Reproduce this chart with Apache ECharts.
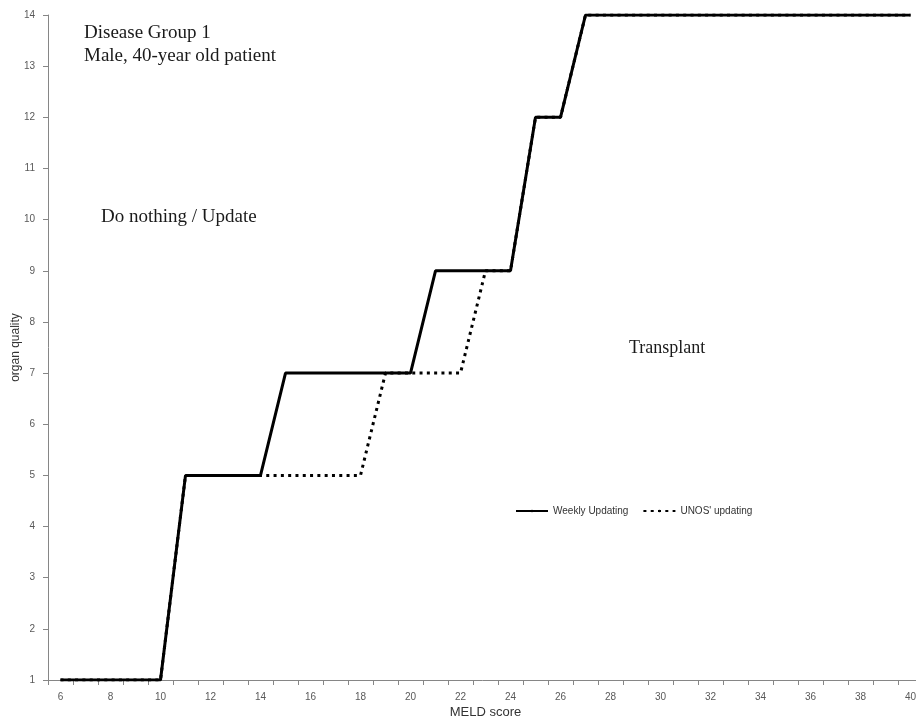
<!DOCTYPE html>
<html>
<head>
<meta charset="utf-8">
<script src="https://cdn.jsdelivr.net/npm/echarts@6/dist/echarts.min.js"></script>
<style>
html,body{margin:0;padding:0;background:#fff;}
#chart{width:916px;height:721px;}
</style>
</head>
<body>
<div id="chart"></div>
<script>
var meldScores = ['6','7','8','9','10','11','12','13','14','15','16','17','18','19','20','21','22','23','24','25','26','27','28','29','30','31','32','33','34','35','36','37','38','39','40'];
var weeklyUpdating = [1,1,1,1,1,5,5,5,5,7,7,7,7,7,7,9,9,9,9,12,12,14,14,14,14,14,14,14,14,14,14,14,14,14,14];
var unosUpdating   = [1,1,1,1,1,5,5,5,5,5,5,5,5,7,7,7,7,9,9,12,12,14,14,14,14,14,14,14,14,14,14,14,14,14,14];

var chart = echarts.init(document.getElementById('chart'), null, {renderer:'canvas'});
var axisGrey = '#868686';
var labelGrey = '#595959';
chart.setOption({
  animation: false,
  backgroundColor: '#fff',
  grid: {left: 48, top: 15, width: 875, height: 665, containLabel: false, outerBoundsMode: 'none'},
  legend: {
    left: 510, top: 501,
    itemWidth: 32, itemHeight: 3, itemGap: 14,
    textStyle: {fontFamily: 'Liberation Sans', fontSize: 10, color: '#333'},
    data: ['Weekly Updating', "UNOS' updating"]
  },
  xAxis: {
    type: 'category',
    data: meldScores,
    boundaryGap: true,
    name: 'MELD score',
    nameLocation: 'middle',
    nameGap: 26,
    nameMoveOverlap: false,
    nameTextStyle: {fontFamily: 'Liberation Sans', fontSize: 13, color: '#333'},
    axisLine: {lineStyle: {color: axisGrey, width: 1}},
    axisTick: {show: true, interval: 0, alignWithLabel: false, length: 5, lineStyle: {color: axisGrey}},
    axisLabel: {interval: 1, margin: 12, fontFamily: 'Liberation Sans', fontSize: 10, color: labelGrey},
    splitLine: {show: false}
  },
  yAxis: {
    type: 'value',
    min: 1, max: 14, interval: 1,
    name: 'organ quality',
    nameLocation: 'middle',
    nameGap: 26,
    nameMoveOverlap: false,
    nameTextStyle: {fontFamily: 'Liberation Sans', fontSize: 12, color: '#333'},
    axisLine: {show: true, lineStyle: {color: axisGrey, width: 1}},
    axisTick: {show: true, length: 5, lineStyle: {color: axisGrey}},
    axisLabel: {margin: 13, fontFamily: 'Liberation Sans', fontSize: 10, color: labelGrey},
    splitLine: {show: false}
  },
  series: [
    {
      name: 'Weekly Updating',
      type: 'line',
      data: weeklyUpdating,
      symbol: 'none',
      lineStyle: {color: '#000', width: 3, type: 'solid'},
      itemStyle: {color: '#000'},
      z: 2
    },
    {
      name: "UNOS' updating",
      type: 'line',
      data: unosUpdating,
      symbol: 'none',
      lineStyle: {color: '#000', width: 3, type: [3, 4.3]},
      itemStyle: {color: '#000'},
      z: 3
    }
  ],
  graphic: [
    {type: 'text', left: 84, top: 24, style: {text: 'Disease Group 1', font: '19px "Liberation Serif"', fill: '#1a1a1a'}},
    {type: 'text', left: 84, top: 47, style: {text: 'Male, 40-year old patient', font: '19px "Liberation Serif"', fill: '#1a1a1a'}},
    {type: 'text', left: 101, top: 208, style: {text: 'Do nothing / Update', font: '19px "Liberation Serif"', fill: '#1a1a1a'}},
    {type: 'text', left: 629, top: 339, style: {text: 'Transplant', font: '18px "Liberation Serif"', fill: '#1a1a1a'}}
  ]
});
</script>
</body>
</html>
